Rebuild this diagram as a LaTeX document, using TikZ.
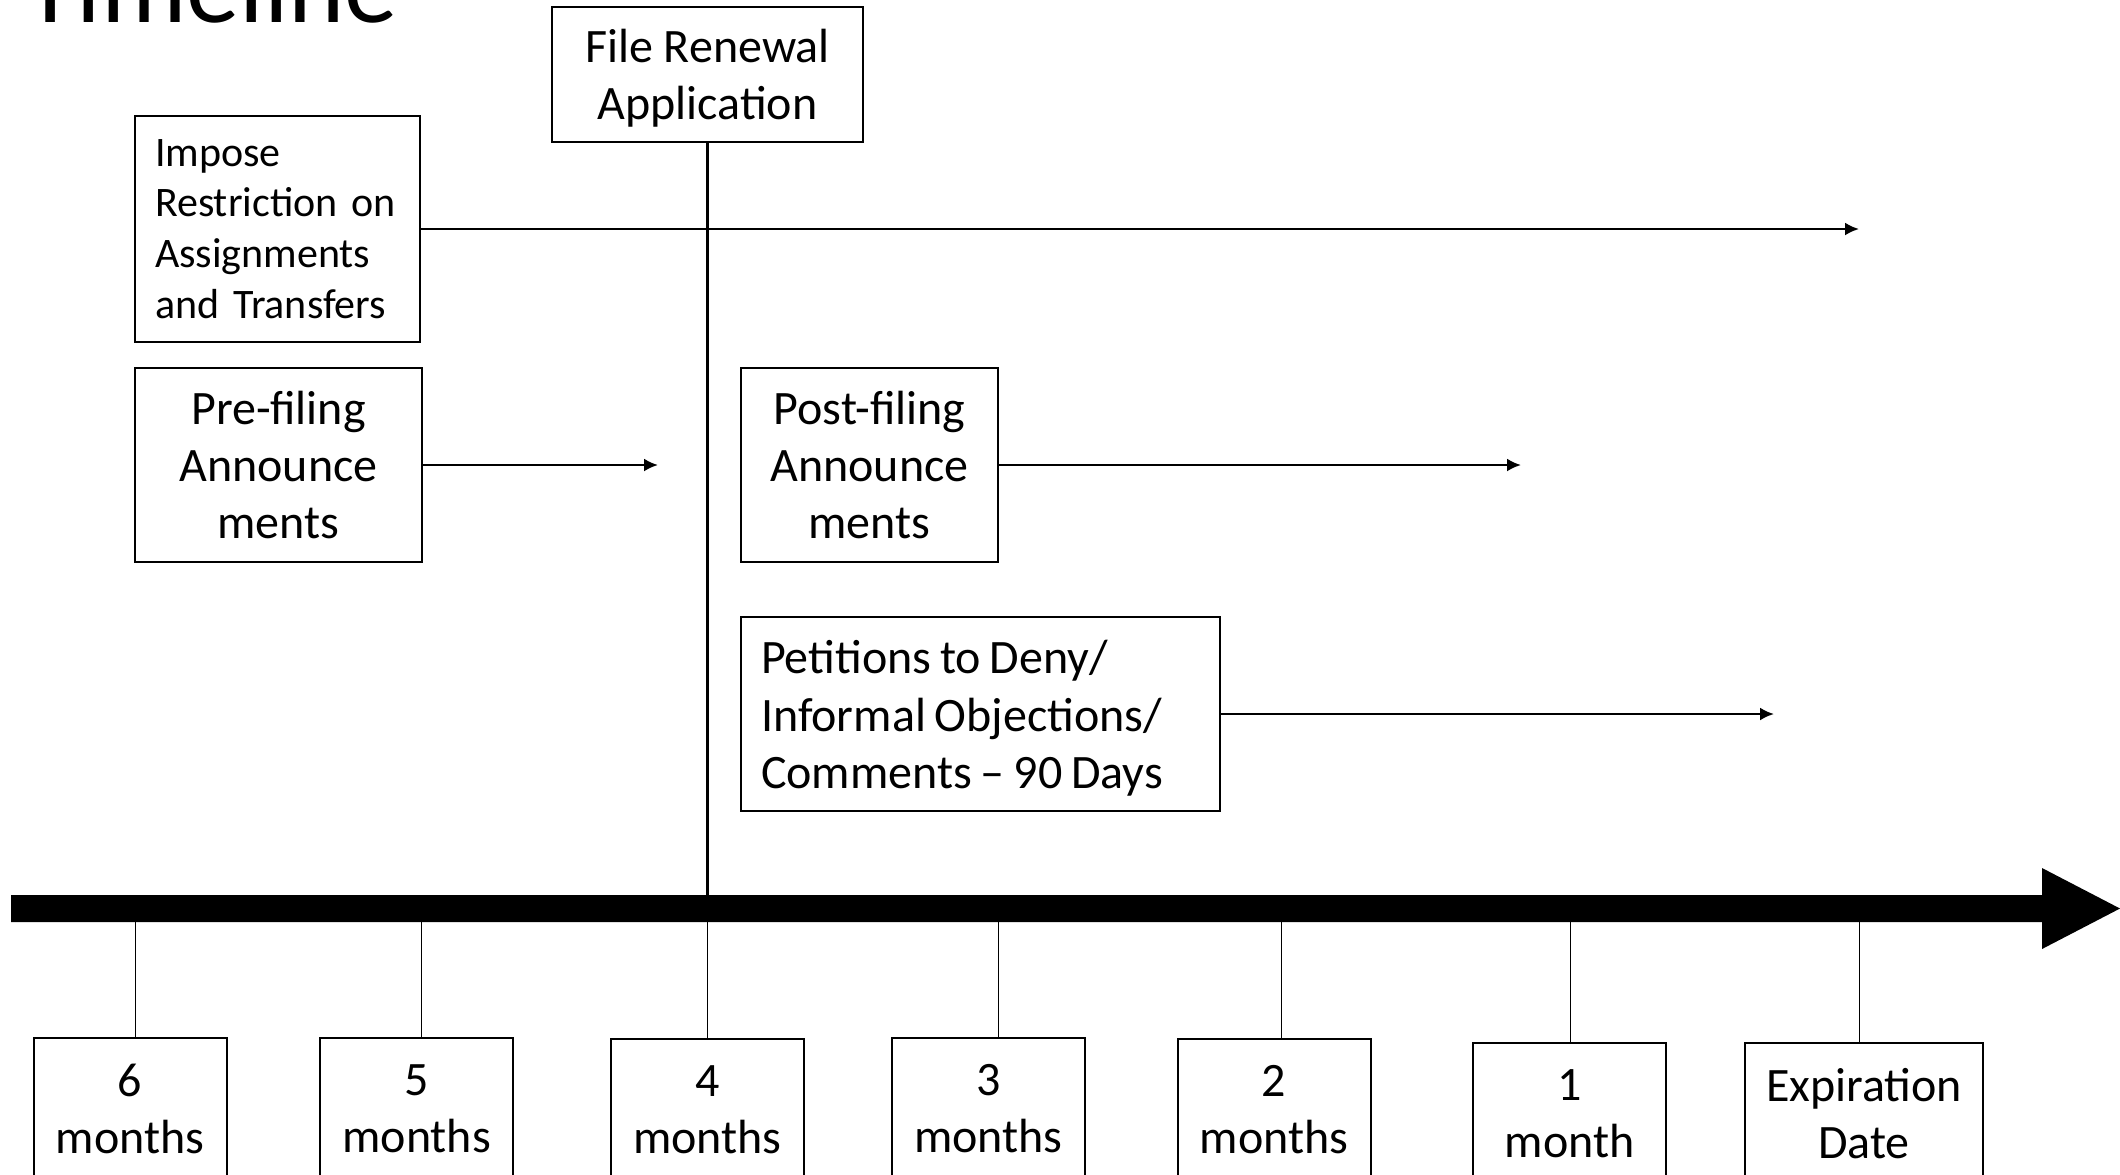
\documentclass[tikz,border=0pt]{standalone}
\usepackage{fontspec}
\setmainfont{Carlito}
\usetikzlibrary{arrows.meta}
\begin{document}
\begin{tikzpicture}[x=0.5pt,y=-0.5pt,
  box/.style={draw, line width=1pt, inner sep=0pt, align=center, font=\fontsize{24}{28.5}\selectfont},
  lbox/.style={draw, line width=1pt, inner ysep=0pt, inner xsep=10pt, align=left},
  mbox/.style={box, anchor=north, minimum width=96.5pt, minimum height=71pt},
  arr/.style={line width=1.2pt, -{Latex[length=7pt,width=6.5pt]}},
  tick/.style={line width=0.5pt}]
\useasboundingbox (0,0) rectangle (2120,1174);
\clip (0,0) rectangle (2120,1174);
\fill[white] (0,0) rectangle (2120,1174);
% title
\node[inner sep=0pt, anchor=base west, font=\fontsize{53.5}{60}\selectfont] (title) at (24,22) {Timeline};
% top boxes
\node[box, text depth=0pt, minimum width=155.5pt, minimum height=67.5pt] (fra) at (707.5,74.5) {File Renewal\\Application};
\node[lbox, text width=122.5pt, minimum height=113pt, font=\fontsize{21}{25.35}\selectfont] (imp) at (277.5,229) {Impose\\Restriction~on\\Assignments\\and~Transfers};
\node[box, minimum width=143.5pt, minimum height=97pt] (pre) at (278.5,465) {Pre-filing\\Announce\\ments};
\node[box, minimum width=128.5pt, minimum height=97pt] (post) at (869.5,465) {Post-filing\\Announce\\ments};
\node[lbox, text width=219.5pt, minimum height=97pt, font=\fontsize{24}{28.75}\selectfont] (pet) at (980.5,714) {\spaceskip=0.185em\relax\rule{0pt}{21pt}Petitions to Deny/\\Informal Objections/\\Comments – 90 Days};
% arrow ends
\coordinate (impend) at (1859,229);
\coordinate (preend) at (658,465);
\coordinate (postend) at (1521,465);
\coordinate (petend) at (1774,714);
\draw[arr] (imp.east) -- (impend);
\draw[arr] (pre.east) -- (preend);
\draw[arr] (post.east) -- (postend);
\draw[arr] (pet.east) -- (petend);
% timeline bar
\coordinate (bartop) at (0,895);
\coordinate (barbot) at (0,922);
\draw[line width=1.2pt] (fra.south) -- (fra.south |- bartop);
\fill[black] (11,895) -- (2042,895) -- (2042,868) -- (2120,908.5) -- (2042,949) -- (2042,922) -- (11,922) -- cycle;
% bottom boxes
\node[mbox] (m6) at (130,1037) {6\\months};
\node[mbox] (m5) at (416.7,1037) {5\\months};
\node[mbox] (m4) at (707.5,1038) {4\\months};
\node[mbox] (m3) at (988.5,1037) {3\\months};
\node[mbox] (m2) at (1274,1038) {2\\months};
\node[mbox] (m1) at (1569.5,1042) {1\\month};
\node[mbox, minimum width=119pt] (exp) at (1864,1042) {Expiration\\Date};
% ticks
\coordinate (t6) at (135,922);
\coordinate (t5) at (421,922);
\coordinate (t4) at (707,922);
\coordinate (t3) at (998,922);
\coordinate (t2) at (1281,922);
\coordinate (t1) at (1570,922);
\coordinate (te) at (1859,922);
\draw[tick] (t6) -- (t6 |- m6.north);
\draw[tick] (t5) -- (t5 |- m5.north);
\draw[tick] (t4) -- (t4 |- m4.north);
\draw[tick] (t3) -- (t3 |- m3.north);
\draw[tick] (t2) -- (t2 |- m2.north);
\draw[tick] (t1) -- (t1 |- m1.north);
\draw[tick] (te) -- (te |- exp.north);
\end{tikzpicture}
\end{document}
